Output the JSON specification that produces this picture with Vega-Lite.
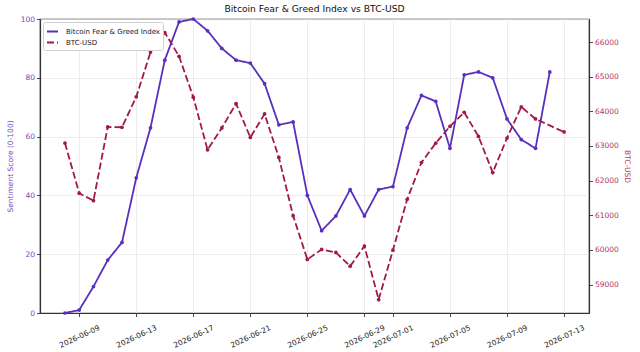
{
  "$schema": "https://vega.github.io/schema/vega-lite/v6.json",
  "width": 549,
  "height": 294,
  "autosize": {"type": "none"},
  "padding": {"left": 40, "top": 19, "right": 51, "bottom": 39},
  "background": "white",
  "title": {
    "text": "Bitcoin Fear & Greed Index vs BTC-USD",
    "font": "DejaVu Sans",
    "fontSize": 9.2,
    "fontWeight": "normal",
    "color": "#111111",
    "anchor": "middle",
    "frame": "group",
    "offset": 1
  },
  "config": {
    "font": "DejaVu Sans",
    "view": {"stroke": "#333333", "strokeWidth": 1.2},
    "axis": {
      "labelFont": "DejaVu Sans",
      "titleFont": "DejaVu Sans",
      "labelFontSize": 7.5,
      "titleFontSize": 7.5,
      "titleFontWeight": "normal",
      "domainColor": "#333333",
      "domainWidth": 1.2,
      "tickColor": "#333333",
      "tickSize": 3.5,
      "tickWidth": 0.9,
      "labelPadding": 2,
      "gridColor": "#e8e8e8",
      "gridWidth": 0.8
    }
  },
  "data": {
    "values": [
      {"date": "2026-06-08", "series": "Bitcoin Fear & Greed Index", "value": 0},
      {"date": "2026-06-09", "series": "Bitcoin Fear & Greed Index", "value": 1},
      {"date": "2026-06-10", "series": "Bitcoin Fear & Greed Index", "value": 9},
      {"date": "2026-06-11", "series": "Bitcoin Fear & Greed Index", "value": 18},
      {"date": "2026-06-12", "series": "Bitcoin Fear & Greed Index", "value": 24},
      {"date": "2026-06-13", "series": "Bitcoin Fear & Greed Index", "value": 46},
      {"date": "2026-06-14", "series": "Bitcoin Fear & Greed Index", "value": 63},
      {"date": "2026-06-15", "series": "Bitcoin Fear & Greed Index", "value": 86},
      {"date": "2026-06-16", "series": "Bitcoin Fear & Greed Index", "value": 99},
      {"date": "2026-06-17", "series": "Bitcoin Fear & Greed Index", "value": 100},
      {"date": "2026-06-18", "series": "Bitcoin Fear & Greed Index", "value": 96},
      {"date": "2026-06-19", "series": "Bitcoin Fear & Greed Index", "value": 90},
      {"date": "2026-06-20", "series": "Bitcoin Fear & Greed Index", "value": 86},
      {"date": "2026-06-21", "series": "Bitcoin Fear & Greed Index", "value": 85},
      {"date": "2026-06-22", "series": "Bitcoin Fear & Greed Index", "value": 78},
      {"date": "2026-06-23", "series": "Bitcoin Fear & Greed Index", "value": 64},
      {"date": "2026-06-24", "series": "Bitcoin Fear & Greed Index", "value": 65},
      {"date": "2026-06-25", "series": "Bitcoin Fear & Greed Index", "value": 40},
      {"date": "2026-06-26", "series": "Bitcoin Fear & Greed Index", "value": 28},
      {"date": "2026-06-27", "series": "Bitcoin Fear & Greed Index", "value": 33},
      {"date": "2026-06-28", "series": "Bitcoin Fear & Greed Index", "value": 42},
      {"date": "2026-06-29", "series": "Bitcoin Fear & Greed Index", "value": 33},
      {"date": "2026-06-30", "series": "Bitcoin Fear & Greed Index", "value": 42},
      {"date": "2026-07-01", "series": "Bitcoin Fear & Greed Index", "value": 43},
      {"date": "2026-07-02", "series": "Bitcoin Fear & Greed Index", "value": 63},
      {"date": "2026-07-03", "series": "Bitcoin Fear & Greed Index", "value": 74},
      {"date": "2026-07-04", "series": "Bitcoin Fear & Greed Index", "value": 72},
      {"date": "2026-07-05", "series": "Bitcoin Fear & Greed Index", "value": 56},
      {"date": "2026-07-06", "series": "Bitcoin Fear & Greed Index", "value": 81},
      {"date": "2026-07-07", "series": "Bitcoin Fear & Greed Index", "value": 82},
      {"date": "2026-07-08", "series": "Bitcoin Fear & Greed Index", "value": 80},
      {"date": "2026-07-09", "series": "Bitcoin Fear & Greed Index", "value": 66},
      {"date": "2026-07-10", "series": "Bitcoin Fear & Greed Index", "value": 59},
      {"date": "2026-07-11", "series": "Bitcoin Fear & Greed Index", "value": 56},
      {"date": "2026-07-12", "series": "Bitcoin Fear & Greed Index", "value": 82},
      {"date": "2026-06-08", "series": "BTC-USD", "value": 63085},
      {"date": "2026-06-09", "series": "BTC-USD", "value": 61636},
      {"date": "2026-06-10", "series": "BTC-USD", "value": 61422},
      {"date": "2026-06-11", "series": "BTC-USD", "value": 63549},
      {"date": "2026-06-12", "series": "BTC-USD", "value": 63540},
      {"date": "2026-06-13", "series": "BTC-USD", "value": 64418},
      {"date": "2026-06-14", "series": "BTC-USD", "value": 65710},
      {"date": "2026-06-15", "series": "BTC-USD", "value": 66276},
      {"date": "2026-06-16", "series": "BTC-USD", "value": 65590},
      {"date": "2026-06-17", "series": "BTC-USD", "value": 64410},
      {"date": "2026-06-18", "series": "BTC-USD", "value": 62891},
      {"date": "2026-06-19", "series": "BTC-USD", "value": 63520},
      {"date": "2026-06-20", "series": "BTC-USD", "value": 64224},
      {"date": "2026-06-21", "series": "BTC-USD", "value": 63247},
      {"date": "2026-06-22", "series": "BTC-USD", "value": 63925},
      {"date": "2026-06-23", "series": "BTC-USD", "value": 62668},
      {"date": "2026-06-24", "series": "BTC-USD", "value": 60987},
      {"date": "2026-06-25", "series": "BTC-USD", "value": 59724},
      {"date": "2026-06-26", "series": "BTC-USD", "value": 60013},
      {"date": "2026-06-27", "series": "BTC-USD", "value": 59926},
      {"date": "2026-06-28", "series": "BTC-USD", "value": 59529},
      {"date": "2026-06-29", "series": "BTC-USD", "value": 60109},
      {"date": "2026-06-30", "series": "BTC-USD", "value": 58564},
      {"date": "2026-07-01", "series": "BTC-USD", "value": 59993},
      {"date": "2026-07-02", "series": "BTC-USD", "value": 61462},
      {"date": "2026-07-03", "series": "BTC-USD", "value": 62523},
      {"date": "2026-07-04", "series": "BTC-USD", "value": 63080},
      {"date": "2026-07-05", "series": "BTC-USD", "value": 63566},
      {"date": "2026-07-06", "series": "BTC-USD", "value": 63972},
      {"date": "2026-07-07", "series": "BTC-USD", "value": 63276},
      {"date": "2026-07-08", "series": "BTC-USD", "value": 62233},
      {"date": "2026-07-09", "series": "BTC-USD", "value": 63230},
      {"date": "2026-07-10", "series": "BTC-USD", "value": 64128},
      {"date": "2026-07-11", "series": "BTC-USD", "value": 63780},
      {"date": "2026-07-13", "series": "BTC-USD", "value": 63404}
    ]
  },
  "encoding": {
    "x": {
      "field": "date",
      "type": "temporal",
      "title": null,
      "scale": {
        "type": "utc",
        "domain": [
          {"year": 2026, "month": 6, "date": 6, "hours": 6, "utc": true},
          {"year": 2026, "month": 7, "date": 14, "hours": 18, "utc": true}
        ]
      },
      "axis": {
        "values": [
          {"year": 2026, "month": 6, "date": 9, "utc": true},
          {"year": 2026, "month": 6, "date": 13, "utc": true},
          {"year": 2026, "month": 6, "date": 17, "utc": true},
          {"year": 2026, "month": 6, "date": 21, "utc": true},
          {"year": 2026, "month": 6, "date": 25, "utc": true},
          {"year": 2026, "month": 6, "date": 29, "utc": true},
          {"year": 2026, "month": 7, "date": 1, "utc": true},
          {"year": 2026, "month": 7, "date": 5, "utc": true},
          {"year": 2026, "month": 7, "date": 9, "utc": true},
          {"year": 2026, "month": 7, "date": 13, "utc": true}
        ],
        "labelExpr": "utcFormat(datum.value, '%Y-%m-%d')",
        "labelAngle": -25,
        "labelAlign": "center",
        "labelBaseline": "middle",
        "labelPadding": 20,
        "labelOverlap": false,
        "labelBound": false,
        "labelColor": "#222222",
        "grid": true
      }
    },
    "color": {
      "field": "series",
      "type": "nominal",
      "scale": {
        "domain": ["Bitcoin Fear & Greed Index", "BTC-USD"],
        "range": ["#5a2fbd", "#a1194b"]
      },
      "legend": {
        "title": null,
        "orient": "none",
        "legendX": 3,
        "legendY": 3,
        "labelFont": "DejaVu Sans",
        "labelFontSize": 7,
        "labelColor": "#222222",
        "labelOffset": 7,
        "symbolType": "stroke",
        "symbolStrokeWidth": 2,
        "symbolSize": 121,
        "rowPadding": 0,
        "padding": 3,
        "fillColor": "white",
        "strokeColor": "#d0d0d0",
        "cornerRadius": 2
      }
    },
    "strokeDash": {
      "field": "series",
      "type": "nominal",
      "scale": {
        "domain": ["Bitcoin Fear & Greed Index", "BTC-USD"],
        "range": [[1, 0], [7, 3]]
      },
      "legend": {
        "title": null,
        "orient": "none",
        "legendX": 3,
        "legendY": 3,
        "labelFont": "DejaVu Sans",
        "labelFontSize": 7,
        "labelColor": "#222222",
        "labelOffset": 7,
        "symbolType": "stroke",
        "symbolStrokeWidth": 2,
        "symbolSize": 121,
        "rowPadding": 0,
        "padding": 3,
        "fillColor": "white",
        "strokeColor": "#d0d0d0",
        "cornerRadius": 2
      }
    }
  },
  "layer": [
    {
      "transform": [{"filter": "datum.series === 'Bitcoin Fear & Greed Index'"}],
      "mark": {"type": "line", "strokeWidth": 1.8, "point": {"filled": true, "size": 14}},
      "encoding": {
        "y": {
          "field": "value",
          "type": "quantitative",
          "scale": {"domain": [0, 100], "nice": false, "zero": false},
          "axis": {
            "orient": "left",
            "values": [0, 20, 40, 60, 80, 100],
            "title": "Sentiment Score (0-100)",
            "titleColor": "#6a4cc4",
            "labelColor": "#6a4cc4",
            "titlePadding": 6,
            "grid": true
          }
        }
      }
    },
    {
      "transform": [{"filter": "datum.series === 'BTC-USD'"}],
      "mark": {"type": "line", "strokeWidth": 1.8, "point": {"filled": true, "size": 14}},
      "encoding": {
        "y": {
          "field": "value",
          "type": "quantitative",
          "scale": {"domain": [58178, 66666], "nice": false, "zero": false},
          "axis": {
            "orient": "right",
            "values": [59000, 60000, 61000, 62000, 63000, 64000, 65000, 66000],
            "format": "d",
            "title": "BTC-USD",
            "titleColor": "#b0385f",
            "labelColor": "#b0385f",
            "titlePadding": 4,
            "grid": false
          }
        }
      }
    }
  ],
  "resolve": {"scale": {"y": "independent"}, "axis": {"y": "independent"}}
}
